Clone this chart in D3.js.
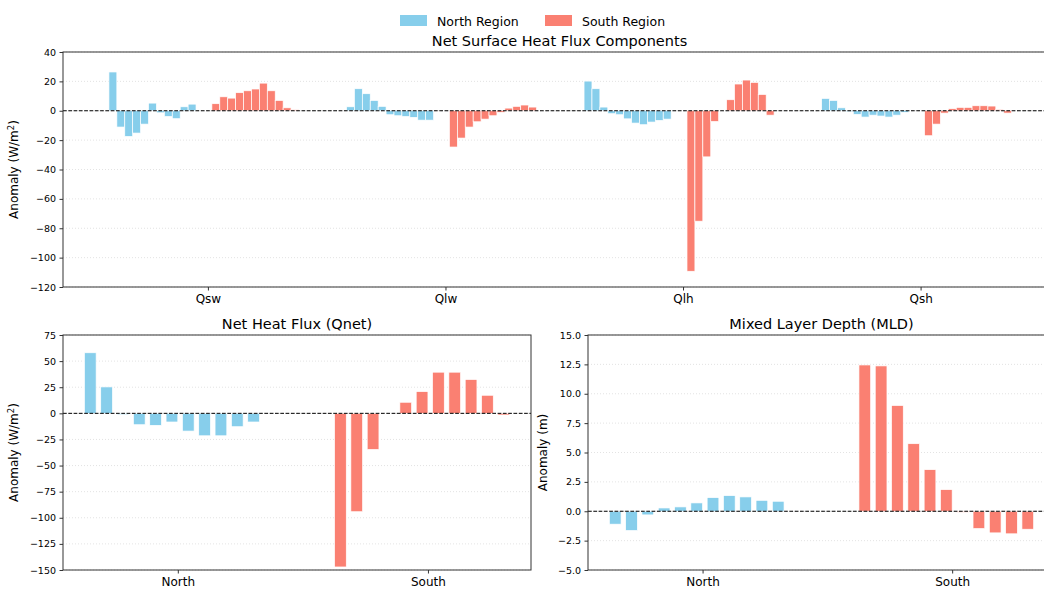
<!DOCTYPE html>
<html>
<head>
<meta charset="utf-8">
<script src="https://cdn.jsdelivr.net/npm/d3@7"></script>
<style>
  body { margin: 0; background: #ffffff; }
  text { font-family: "DejaVu Sans", sans-serif; fill: #000; }
</style>
</head>
<body>
<svg id="chart" width="1044" height="589"></svg>
<script>
// ---- data ---------------------------------------------------------------
const components = ["Qsw", "Qlw", "Qlh", "Qsh"];
const regions = ["North", "South"];
const seriesNames = ["North Region", "South Region"];

// monthly anomalies of each flux component (W/m²)
const northQsw = [26.4, -11.1, -17.5, -15.2, -9.1, 5.2, -1.4, -3.9, -5.4, 2.7, 4.5];
const southQsw = [4.8, 9.5, 8.6, 12.3, 13.6, 14.8, 18.8, 13.6, 7.0, 2.0, 0.7];
const northQlw = [2.7, 15.0, 11.6, 7.0, 3.0, -2.7, -3.4, -3.9, -4.5, -6.4, -6.4];
const southQlw = [-24.7, -18.6, -11.1, -7.5, -5.7, -3.4, -1.1, 1.8, 3.0, 3.9, 2.5];
const northQlh = [20.2, 15.0, 2.5, -2.0, -2.7, -5.5, -8.4, -9.5, -7.7, -6.6, -5.7];
const southQlh = [-109.3, -75.2, -31.4, -7.3, 0.2, 7.5, 18.2, 20.9, 19.3, 11.1, -3.0];
const northQsh = [8.4, 7.0, 2.0, -0.7, -2.5, -4.3, -3.0, -3.6, -4.3, -3.0, -1.1];
const southQsh = [-17.0, -9.1, -1.6, 1.4, 2.3, 2.3, 3.4, 3.4, 3.2, 0.9, -1.6];

// net heat flux anomalies (W/m²)
const northQnet = [58.0, 25.3, -1.3, -10.9, -11.5, -8.3, -17.0, -21.5, -21.5, -12.8, -8.3];
const southQnet = [-147.1, -94.2, -34.6, -0.5, 10.6, 20.8, 39.4, 39.4, 32.4, 17.3, -1.6];

// mixed layer depth anomalies (m)
const northMld = [-1.10, -1.64, -0.31, 0.28, 0.37, 0.71, 1.16, 1.33, 1.22, 0.93, 0.85];
const southMld = [12.45, 12.37, 9.0, 5.75, 3.54, 1.84, -0.08, -1.47, -1.84, -1.92, -1.53];

const fluxTicks = [40, 20, 0, -20, -40, -60, -80, -100, -120];
const qnetTicks = [75, 50, 25, 0, -25, -50, -75, -100, -125, -150];
const mldTicks = [15, 12.5, 10, 7.5, 5, 2.5, 0, -2.5, -5];

// ---- styling ------------------------------------------------------------
const colors = { North: "#87CEEB", South: "#FA8072" };
const svg = d3.select("#chart");

function yLabel(g, x, y, unitText, sup) {
  const t = g.append("text")
    .attr("transform", `translate(${x},${y}) rotate(-90)`)
    .attr("text-anchor", "middle")
    .attr("font-size", 12);
  t.append("tspan").text("Anomaly (" + unitText);
  if (sup) {
    t.append("tspan").attr("dy", -4.5).attr("font-size", 8.5).text(sup);
    t.append("tspan").attr("dy", 4.5).text(")");
  } else {
    t.append("tspan").text(")");
  }
}

// Draws one panel: frame, grid, zero line, bars and axes.
function drawPanel(p) {
  const x = d3.scaleLinear().domain(p.xDomain).range([p.left, p.right]);
  const y = d3.scaleLinear().domain(p.yDomain).range([p.bottom, p.top]);
  const g = svg.append("g");

  // horizontal dotted grid
  g.append("g").selectAll("line").data(p.yTicks).join("line")
    .attr("x1", p.left).attr("x2", p.right)
    .attr("y1", d => y(d)).attr("y2", d => y(d))
    .attr("stroke", "#dcdcdc").attr("stroke-width", 0.8)
    .attr("stroke-dasharray", "1,2");

  // bars
  p.series.forEach(s => {
    g.append("g").selectAll("rect").data(s.values).join("rect")
      .attr("x", (d, i) => x(s.base + s.offset(i) - p.barWidth / 2))
      .attr("width", x(p.barWidth) - x(0))
      .attr("y", d => y(Math.max(0, d)))
      .attr("height", d => Math.abs(y(d) - y(0)))
      .attr("fill", colors[s.region])
      .attr("stroke", "#ffffff").attr("stroke-width", 0.7);
  });

  // zero reference line
  g.append("line")
    .attr("x1", p.left).attr("x2", p.right)
    .attr("y1", y(0)).attr("y2", y(0))
    .attr("stroke", "#000").attr("stroke-width", 1)
    .attr("stroke-dasharray", "3.7,1.6");

  // frame
  g.append("rect")
    .attr("x", p.left).attr("y", p.top)
    .attr("width", p.right - p.left).attr("height", p.bottom - p.top)
    .attr("fill", "none").attr("stroke", "#333").attr("stroke-width", 1);

  // axes
  const ya = g.append("g").attr("transform", `translate(${p.left},0)`)
    .call(d3.axisLeft(y).tickValues(p.yTicks).tickFormat(p.yFormat)
      .tickSize(3.5).tickPadding(3.5));
  ya.select(".domain").remove();
  ya.selectAll("text").attr("font-size", p.yFont).attr("font-family", "DejaVu Sans");
  ya.selectAll("line").attr("stroke", "#333");

  const xa = g.append("g").attr("transform", `translate(0,${p.bottom})`)
    .call(d3.axisBottom(x).tickValues(p.categories.map((c, i) => i))
      .tickFormat(i => p.categories[i]).tickSize(3.5).tickPadding(3.5));
  xa.select(".domain").remove();
  xa.selectAll("text").attr("font-size", 12).attr("font-family", "DejaVu Sans");
  xa.selectAll("line").attr("stroke", "#333");

  // title
  g.append("text")
    .attr("x", (p.left + p.right) / 2).attr("y", p.top - 6)
    .attr("text-anchor", "middle").attr("font-size", 14.5)
    .text(p.title);
  return g;
}

// ---- top panel: flux components ----------------------------------------
const compNorth = [northQsw, northQlw, northQlh, northQsh];
const compSouth = [southQsw, southQlw, southQlh, southQsh];
const step = 1 / 30;
const topSeries = [];
components.forEach((c, k) => {
  topSeries.push({ region: "North", base: k, values: compNorth[k], offset: i => -0.4 + i * step });
  topSeries.push({ region: "South", base: k, values: compSouth[k], offset: i => step + i * step });
});
const gTop = drawPanel({
  left: 63, right: 1056, top: 52, bottom: 287,
  xDomain: [-0.61, 3.57], yDomain: [-120, 40],
  yTicks: fluxTicks, yFormat: d3.format("d"), yFont: 9.5,
  categories: components, series: topSeries, barWidth: step,
  title: "Net Surface Heat Flux Components"
});
yLabel(gTop, 18, 169.5, "W/m", "2");

// ---- bottom panels: Qnet and MLD ----------------------------------------
const monthStep = 0.0653;
const regionOffset = i => -0.35 + i * monthStep;

const gQnet = drawPanel({
  left: 63, right: 531, top: 335, bottom: 570,
  xDomain: [-0.459, 1.412], yDomain: [-150, 75],
  yTicks: qnetTicks, yFormat: d3.format("d"), yFont: 9.5,
  categories: regions, barWidth: 0.047,
  series: [
    { region: "North", base: 0, values: northQnet, offset: regionOffset },
    { region: "South", base: 1, values: southQnet, offset: regionOffset }
  ],
  title: "Net Heat Flux (Qnet)"
});
yLabel(gQnet, 18, 452.5, "W/m", "2");

const gMld = drawPanel({
  left: 588, right: 1055, top: 335, bottom: 570,
  xDomain: [-0.459, 1.412], yDomain: [-5, 15],
  yTicks: mldTicks, yFormat: d3.format(".1f"), yFont: 9.5,
  categories: regions, barWidth: 0.047,
  series: [
    { region: "North", base: 0, values: northMld, offset: regionOffset },
    { region: "South", base: 1, values: southMld, offset: regionOffset }
  ],
  title: "Mixed Layer Depth (MLD)"
});
yLabel(gMld, 547, 452.5, "m", null);

// ---- legend -------------------------------------------------------------
const legend = svg.append("g");
const legendX = [400, 545];
seriesNames.forEach((name, i) => {
  const region = regions[i];
  legend.append("rect")
    .attr("x", legendX[i]).attr("y", 15).attr("width", 27).attr("height", 11)
    .attr("fill", colors[region]);
  legend.append("text")
    .attr("x", legendX[i] + 37).attr("y", 25.5)
    .attr("font-size", 12.5).text(name);
});
</script>
</body>
</html>
